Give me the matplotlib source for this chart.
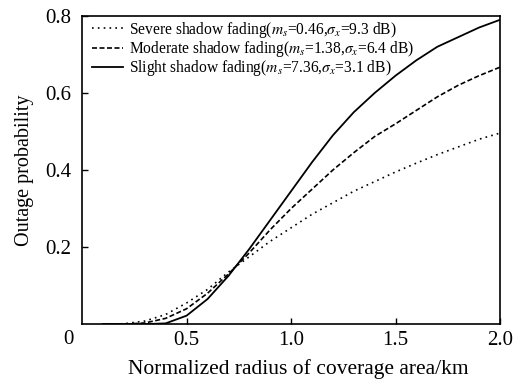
import matplotlib
matplotlib.use("Agg")
import matplotlib.pyplot as plt

radius = [0.1, 0.2, 0.3, 0.4, 0.5, 0.6, 0.7, 0.8, 0.9, 1.0,
          1.1, 1.2, 1.3, 1.4, 1.5, 1.6, 1.7, 1.8, 1.9, 2.0]
severe = [0.0, 0.001, 0.008, 0.025, 0.055, 0.09, 0.135, 0.175, 0.215, 0.25,
          0.285, 0.315, 0.345, 0.37, 0.395, 0.418, 0.44, 0.46, 0.48, 0.496]
moderate = [0.0, 0.0, 0.003, 0.015, 0.04, 0.08, 0.13, 0.185, 0.245, 0.30,
            0.35, 0.40, 0.445, 0.487, 0.52, 0.555, 0.59, 0.62, 0.645, 0.667]
slight = [0.0, 0.0, 0.0, 0.002, 0.022, 0.065, 0.125, 0.195, 0.27, 0.345,
          0.42, 0.49, 0.55, 0.60, 0.645, 0.685, 0.72, 0.745, 0.77, 0.79]

labels = [
    r"Severe shadow fading($m_s$=0.46,$\sigma_x$=9.3 dB)",
    r"Moderate shadow fading($m_s$=1.38,$\sigma_x$=6.4 dB)",
    r"Slight shadow fading($m_s$=7.36,$\sigma_x$=3.1 dB)",
]

plt.rcParams["font.family"] = ["Liberation Serif", "DejaVu Serif"]
plt.rcParams["mathtext.fontset"] = "stix"

fig = plt.figure(figsize=(5.23, 3.8), dpi=100)
ax = fig.add_axes([0.157, 0.147, 0.799, 0.811])

ax.plot(radius, severe, color="black", lw=1.2, linestyle=(0, (1, 2.5)), label=labels[0])
ax.plot(radius, moderate, color="black", lw=1.2, linestyle=(0, (3, 1.5)), label=labels[1])
ax.plot(radius, slight, color="black", lw=1.3, linestyle="-", label=labels[2])

ax.set_xlim(0, 2.0)
ax.set_ylim(0, 0.8)
ax.set_xticks([0.5, 1.0, 1.5, 2.0])
ax.set_yticks([0.2, 0.4, 0.6, 0.8])
ax.set_xticklabels(["0.5", "1.0", "1.5", "2.0"])
ax.set_yticklabels(["0.2", "0.4", "0.6", "0.8"])
ax.tick_params(direction="in", length=4, width=1, labelsize=15)
ax.tick_params(axis="x", pad=5)
ax.tick_params(axis="y", pad=8)
# the lone "0" at the corner, level with the x tick labels
ax.text(-0.032, -0.018, "0", transform=ax.transAxes, fontsize=15, ha="center", va="top")
for s in ax.spines.values():
    s.set_linewidth(1.2)

ax.set_xlabel("Normalized radius of coverage area/km", fontsize=15.5, labelpad=6)
ax.xaxis.set_label_coords(0.518, -0.115)
ax.set_ylabel("Outage probability", fontsize=14.5, labelpad=8)

ax.legend(loc="upper left", bbox_to_anchor=(0.018, 0.995), frameon=False, fontsize=11.2,
          handlelength=2.0, handletextpad=0.4, labelspacing=-0.05,
          borderaxespad=0.05, borderpad=0.1)

fig.savefig("out.png", dpi=100)
